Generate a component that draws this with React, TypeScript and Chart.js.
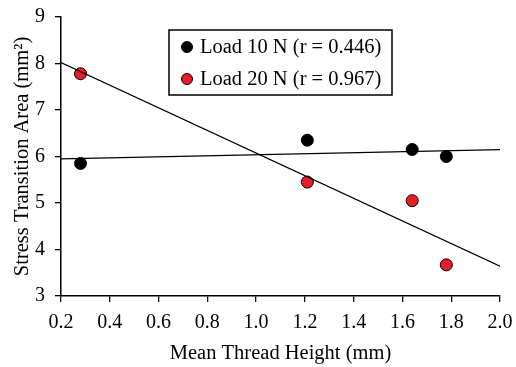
import React, { useEffect, useRef } from "react";
import { Chart, registerables } from "chart.js";

Chart.register(...registerables);

const threadHeight = [0.28, 1.21, 1.64, 1.78];
const load10 = [5.85, 6.35, 6.15, 6.0];
const load20 = [7.78, 5.45, 5.05, 3.67];
const trendX = [0.2, 2.0];
const trend10 = [5.95, 6.15];
const trend20 = [8.02, 3.64];
const legendLabels = ["Load 10 N (r = 0.446)", "Load 20 N (r = 0.967)"];
const legendColors = ["#000000", "#ed1c24"];

const FONT = "'Liberation Serif', 'Times New Roman', serif";

const legendPlugin = {
  id: "boxLegend",
  afterDraw(chart: any) {
    const ctx = chart.ctx;
    const x0 = 169, y0 = 30, w = 223, h = 65;
    ctx.save();
    ctx.fillStyle = "#fff";
    ctx.fillRect(x0, y0, w, h);
    ctx.strokeStyle = "#000";
    ctx.lineWidth = 1.5;
    ctx.strokeRect(x0, y0, w, h);
    ctx.font = `20.5px ${FONT}`;
    ctx.textBaseline = "middle";
    legendLabels.forEach((lab, i) => {
      const cy = y0 + 17 + i * 32;
      ctx.beginPath();
      ctx.arc(x0 + 18, cy, 5.5, 0, Math.PI * 2);
      ctx.fillStyle = legendColors[i];
      ctx.fill();
      ctx.lineWidth = 1;
      ctx.strokeStyle = "#000";
      ctx.stroke();
      ctx.fillStyle = "#000";
      ctx.fillText(lab, x0 + 31, cy + 1);
    });
    ctx.restore();
  },
};

export default function App() {
  const ref = useRef<HTMLCanvasElement>(null);
  useEffect(() => {
    document.body.style.margin = "0";
    const chart = new Chart(ref.current!, {
      type: "scatter",
      data: {
        datasets: [
          {
            label: "trend10",
            data: trendX.map((x, i) => ({ x, y: trend10[i] })),
            showLine: true,
            borderColor: "#000",
            borderWidth: 1.3,
            pointRadius: 0,
          },
          {
            label: "trend20",
            data: trendX.map((x, i) => ({ x, y: trend20[i] })),
            showLine: true,
            borderColor: "#000",
            borderWidth: 1.3,
            pointRadius: 0,
          },
          {
            label: legendLabels[0],
            data: threadHeight.map((x, i) => ({ x, y: load10[i] })),
            backgroundColor: legendColors[0],
            borderColor: "#000",
            borderWidth: 1,
            pointRadius: 6,
          },
          {
            label: legendLabels[1],
            data: threadHeight.map((x, i) => ({ x, y: load20[i] })),
            backgroundColor: legendColors[1],
            borderColor: "#000",
            borderWidth: 1,
            pointRadius: 6,
          },
        ],
      },
      options: {
        animation: false,
        responsive: false,
        layout: { padding: { top: 17, right: 16, left: 6, bottom: 0 } },
        plugins: { legend: { display: false }, tooltip: { enabled: false } },
        scales: {
          x: {
            type: "linear",
            min: 0.2,
            max: 2.0,
            ticks: {
              stepSize: 0.2,
              color: "#000",
              font: { family: FONT, size: 20 },
              callback: (v: any) => Number(v).toFixed(1),
              padding: 9,
            },
            grid: { display: true, drawOnChartArea: false, drawTicks: true, tickLength: 6, color: "#000", lineWidth: 1.3 },
            border: { color: "#000", width: 1.5 },
            title: { display: true, text: "Mean Thread Height (mm)", color: "#000", font: { family: FONT, size: 20.5 }, padding: { top: 8, bottom: 1 } },
            afterFit: (s: any) => { s.height = 71; s.paddingLeft = 0; s.paddingRight = 0; },
          },
          y: {
            type: "linear",
            min: 3,
            max: 9,
            ticks: {
              stepSize: 1,
              color: "#000",
              font: { family: FONT, size: 20 },
              padding: 10,
            },
            grid: { display: true, drawOnChartArea: false, drawTicks: true, tickLength: 6, color: "#000", lineWidth: 1.3 },
            border: { color: "#000", width: 1.5 },
            title: { display: true, text: "Stress Transition Area (mm²)", color: "#000", font: { family: FONT, size: 20.5 }, padding: { bottom: 4 } },
            afterFit: (s: any) => { s.width = 55; s.paddingTop = 0; s.paddingBottom = 0; },
          },
        },
      },
      plugins: [legendPlugin],
    } as any);
    return () => chart.destroy();
  }, []);
  return <canvas ref={ref} width={516} height={367} style={{ display: "block" }} />;
}
